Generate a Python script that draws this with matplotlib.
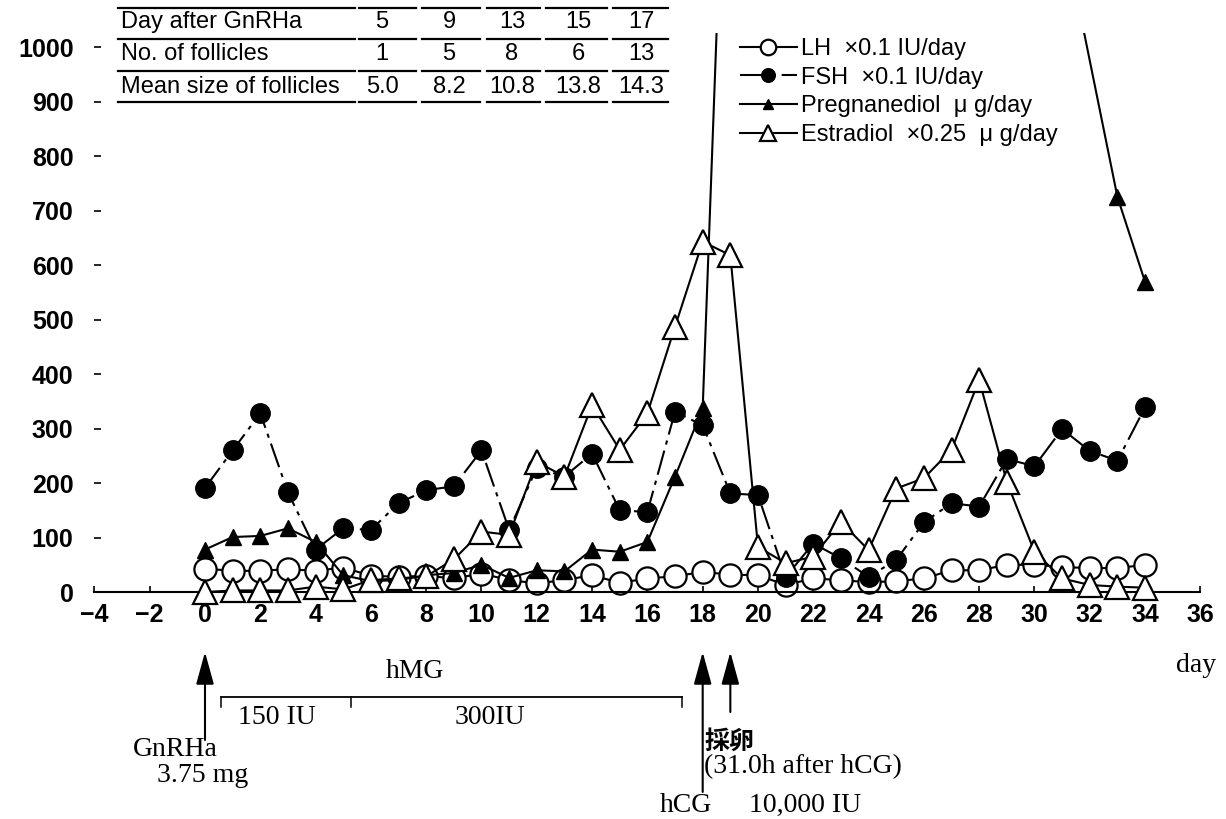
import matplotlib
matplotlib.use('Agg')
import matplotlib.pyplot as plt
import matplotlib.transforms as mtransforms
import numpy as np

# days after GnRHa
days = list(range(0, 35))
lh = [43, 39, 39, 42, 39, 45, 30, 28, 30, 25, 34, 22, 16, 22, 31, 17, 25, 29, 37, 32,
      31, 13, 25, 22, 18, 20, 25, 40, 40, 50, 50, 46, 44, 44, 50]
fsh = [191, 260, 328, 183, 78, 117, 114, 163, 187, 194, 260, 114, 228, 212, 254, 150, 147, 331, 306, 181,
       178, 28, 89, 62, 28, 59, 128, 163, 157, 244, 231, 299, 259, 241, 339]
estradiol = [0, 3, 3, 3, 10, 5, 22, 25, 29, 60, 111, 105, 239, 212, 343, 261, 328, 487, 643, 618,
             83, 53, 65, 129, 77, 190, 209, 261, 389, 202, 74, 25, 13, 10, 8]
# pregnanediol: off scale after day 18, sampled days only
preg_days = list(range(0, 20)) + [31, 33, 34]
pregnanediol = [78, 101, 103, 117, 92, 31, 20, 22, 31, 35, 50, 26, 40, 38, 78, 74, 92, 212, 337, 1710,
                1225, 725, 569]

labels = ['LH  ×0.1 IU/day', 'FSH  ×0.1 IU/day', 'Pregnanediol  μ g/day', 'Estradiol  ×0.25  μ g/day']

# follicle table
table_rows = ['Day after GnRHa', 'No. of follicles', 'Mean size of follicles']
table_vals = [['5', '9', '13', '15', '17'],
              ['1', '5', '8', '6', '13'],
              ['5.0', '8.2', '10.8', '13.8', '14.3']]

# treatment events
gnrha_day = 0
hcg_day = 18
opu_day = 19
hmg_start, hmg_switch, hmg_end = 0.58, 5.28, 17.25

W, H = 1226, 819
fig = plt.figure(figsize=(W / 100, H / 100), dpi=100)
ax = fig.add_axes([0.077, 0.2571, 0.9021, 0.7021])

ax.plot(days, lh, '-', color='black', lw=1.5, marker='o', ms=16, mfc='white', mec='black', mew=1.6,
        label=labels[0], zorder=2)
ax.plot(days, fsh, color='black', lw=1.5, dashes=(12, 3, 2, 3), marker='o', ms=14, mfc='black', mec='black',
        label=labels[1], zorder=3)
ax.plot(preg_days, pregnanediol, '-', color='black', lw=1.5, marker='^', ms=11, mfc='black', mec='black',
        label=labels[2], zorder=4)
ax.plot(days, estradiol, '-', color='black', lw=1.5, marker='^', ms=17, mfc='white', mec='black', mew=1.6,
        label=labels[3], zorder=5)

ax.set_xlim(-4, 36)
ax.set_ylim(-30, 1025)
ax.set_xticks(np.arange(-4, 37, 2))
ax.set_yticks(np.arange(0, 1001, 100))
for s in ['top', 'right', 'left']:
    ax.spines[s].set_visible(False)
ax.spines['bottom'].set_position(('data', 0))
ax.spines['bottom'].set_linewidth(1.5)
ax.tick_params(axis='y', direction='in', length=5, width=1.2, pad=15)
ax.tick_params(axis='x', direction='in', length=4, width=1.2, pad=8)
for t in ax.get_yticklabels():
    t.set_fontfamily(['Liberation Sans', 'DejaVu Sans'])
    t.set_fontweight('bold')
    t.set_fontsize(18)
for t in ax.get_xticklabels():
    t.set_fontfamily(['Liberation Sans Narrow', 'Liberation Sans'])
    t.set_fontweight('bold')
    t.set_fontsize(18)

leg = ax.legend(loc='upper left', bbox_to_anchor=(740 / W, 1 - 38 / H), bbox_transform=fig.transFigure,
                frameon=False, borderpad=0, borderaxespad=0, handlelength=2.4, handletextpad=0.2,
                labelspacing=0.28, markerscale=0.7,
                prop={'family': ['Liberation Sans', 'DejaVu Sans'], 'size': 17})

# table at top left
def fy(p):
    return 1 - p / H

row_y = [22, 54, 87]
col_x = [382, 449, 512, 578, 641]
line_y = [8, 39, 71, 102]
segs = [(118, 355), (359, 416), (422, 480), (487, 540), (546, 607), (613, 668)]
tfont = dict(family=['Liberation Sans', 'DejaVu Sans'], size=17)
for r, name in enumerate(table_rows):
    fig.text(121 / W, fy(row_y[r]), name, ha='left', va='center', **tfont)
    for c, v in enumerate(table_vals[r]):
        fig.text(col_x[c] / W, fy(row_y[r]), v, ha='center', va='center', **tfont)
for ly in line_y:
    for a, b in segs:
        fig.add_artist(plt.Line2D([a / W, b / W], [fy(ly), fy(ly)], color='black', lw=1.6,
                                  transform=fig.transFigure))

# treatment annotations below axis
trans = mtransforms.blended_transform_factory(ax.transData, fig.transFigure)
serif = dict(family=['Liberation Serif', 'DejaVu Serif'], size=20)
arrow = dict(arrowstyle='-|>,head_length=0.8,head_width=0.22', color='black', lw=1.5,
             mutation_scale=25, shrinkA=0, shrinkB=0)
for d, bottom in [(gnrha_day, 740), (hcg_day, 792), (opu_day, 712)]:
    ax.annotate('', xy=(d, fy(652)), xytext=(d, fy(bottom)), xycoords=trans, textcoords=trans,
                arrowprops=arrow, annotation_clip=False)

ax.plot([hmg_start, hmg_end], [fy(697), fy(697)], color='black', lw=1.3, transform=trans, clip_on=False)
for d in [hmg_start, hmg_switch, hmg_end]:
    ax.plot([d, d], [fy(697), fy(707)], color='black', lw=1.1, transform=trans, clip_on=False)

ax.text(7.6, fy(672), 'hMG', ha='center', va='center', transform=trans, **serif)
ax.text(2.6, fy(717), '150 IU', ha='center', va='center', transform=trans, **serif)
ax.text(10.3, fy(717), '300IU', ha='center', va='center', transform=trans, **serif)
ax.text(-1.08, fy(750), 'GnRHa', ha='center', va='center', transform=trans, **serif)
ax.text(-0.1, fy(775), '3.75 mg', ha='center', va='center', transform=trans, **serif)
ax.text(17.4, fy(805), 'hCG', ha='center', va='center', transform=trans, **serif)
ax.text(21.7, fy(805), '10,000 IU', ha='center', va='center', transform=trans, **serif)
ax.text(18.08, fy(742), '採卵', ha='left', va='center', transform=trans,
        family=['Noto Sans CJK JP', 'DejaVu Sans'], fontweight='bold', size=18)
ax.text(18.05, fy(767), '(31.0h after hCG)', ha='left', va='center', transform=trans, **serif)
ax.text(35.85, fy(665), 'day', ha='center', va='center', transform=trans, **serif)

fig.savefig('out.png', dpi=100, facecolor='white')
